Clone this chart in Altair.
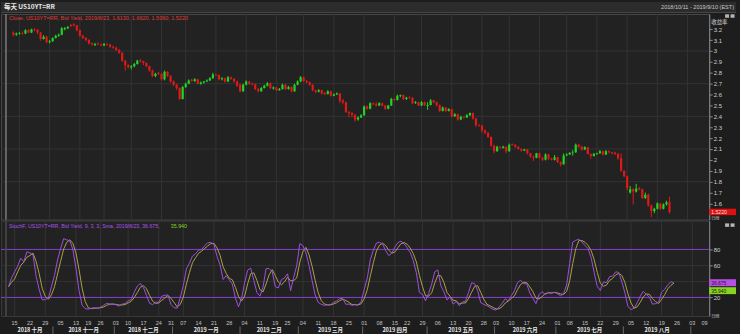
import altair as alt
import pandas as pd

# ---------------- data ----------------
HOLIDAYS = ["2018-11-12", "2018-11-22", "2018-12-05", "2018-12-25", "2019-01-01",
            "2019-02-18", "2019-04-19", "2019-05-27", "2019-07-04", "2019-09-02"]

TICK_LABELS = ["15", "22", "29", "05", "13", "19", "26", "03", "10", "17", "24", "31",
               "07", "14", "21", "28", "04", "11", "19", "25", "04", "11", "18", "25",
               "01", "08", "15", "22", "29", "06", "13", "20", "28", "03", "10", "17", "24",
               "01", "08", "15", "22", "29", "05", "12", "19", "26", "03", "09"]

MONTH_LABELS = ["2018 十月", "2018 十一月", "2018 十二月", "2019 一月", "2019 二月", "2019 三月",
                "2019 四月", "2019 五月", "2019 六月", "2019 七月", "2019 八月"]

open_ = [
    # Oct
    3.170, 3.150, 3.160, 3.165, 3.160, 3.190, 3.170, 3.200, 3.195, 3.170, 3.110, 3.130, 3.080, 3.090, 3.120,
    # Nov
    3.140, 3.150, 3.200, 3.210, 3.240, 3.245, 3.235, 3.190, 3.140, 3.120, 3.100, 3.070, 3.055, 3.065, 3.060,
    3.050, 3.065, 3.060, 3.040, 3.030,
    # Dec
    3.010, 2.985, 2.910, 2.870, 2.850, 2.860, 2.880, 2.915, 2.905, 2.890, 2.860, 2.820, 2.770, 2.800, 2.790,
    2.740, 2.810, 2.770, 2.720,
    # Jan
    2.690, 2.660, 2.560, 2.670, 2.700, 2.735, 2.725, 2.740, 2.700, 2.710, 2.720, 2.730, 2.750, 2.785, 2.780,
    2.740, 2.750, 2.720, 2.760, 2.745, 2.720, 2.690,
    # Feb
    2.630, 2.690, 2.720, 2.700, 2.695, 2.650, 2.630, 2.660, 2.680, 2.705, 2.655, 2.665, 2.640, 2.650, 2.690,
    2.650, 2.670, 2.630, 2.690,
    # Mar
    2.720, 2.760, 2.725, 2.715, 2.690, 2.640, 2.625, 2.640, 2.615, 2.605, 2.630, 2.590, 2.600, 2.610, 2.545,
    2.530, 2.440, 2.430, 2.415, 2.370, 2.390,
    # Apr
    2.410, 2.490, 2.470, 2.520, 2.510, 2.500, 2.520, 2.500, 2.470, 2.500, 2.560, 2.550, 2.590, 2.595, 2.560,
    2.575, 2.570, 2.520, 2.530, 2.500, 2.530,
    # May
    2.495, 2.505, 2.545, 2.530, 2.505, 2.450, 2.480, 2.450, 2.465, 2.400, 2.420, 2.370, 2.395, 2.390, 2.410,
    2.430, 2.380, 2.320, 2.315, 2.270, 2.250, 2.210,
    # Jun
    2.130, 2.080, 2.120, 2.110, 2.120, 2.080, 2.145, 2.140, 2.120, 2.100, 2.085, 2.095, 2.060, 2.030, 2.020,
    2.060, 2.020, 2.000, 2.050, 2.010,
    # Jul
    2.000, 2.025, 1.980, 1.960, 2.040, 2.050, 2.065, 2.070, 2.140, 2.120, 2.095, 2.115, 2.055, 2.035, 2.055,
    2.060, 2.080, 2.050, 2.080, 2.070, 2.065, 2.055,
    # Aug
    2.015, 1.900, 1.850, 1.700, 1.730, 1.710, 1.740, 1.730, 1.650, 1.680, 1.580, 1.530, 1.550, 1.600, 1.550,
    1.590, 1.613,
]

high = [
    3.180, 3.170, 3.175, 3.180, 3.200, 3.200, 3.205, 3.210, 3.200, 3.175, 3.145, 3.140, 3.100, 3.125, 3.150,
    3.160, 3.220, 3.220, 3.230, 3.250, 3.255, 3.240, 3.195, 3.150, 3.130, 3.110, 3.080, 3.075, 3.080, 3.070,
    3.075, 3.075, 3.065, 3.050, 3.040,
    3.020, 2.990, 2.920, 2.880, 2.870, 2.890, 2.920, 2.925, 2.910, 2.895, 2.865, 2.830, 2.800, 2.810, 2.795,
    2.820, 2.815, 2.780, 2.730,
    2.700, 2.665, 2.680, 2.710, 2.740, 2.745, 2.750, 2.745, 2.720, 2.725, 2.740, 2.760, 2.800, 2.790, 2.785,
    2.760, 2.755, 2.770, 2.765, 2.750, 2.730, 2.700,
    2.700, 2.730, 2.725, 2.710, 2.700, 2.660, 2.670, 2.690, 2.715, 2.710, 2.675, 2.670, 2.660, 2.700, 2.695,
    2.680, 2.675, 2.700, 2.730,
    2.770, 2.765, 2.735, 2.720, 2.695, 2.645, 2.650, 2.645, 2.625, 2.640, 2.635, 2.610, 2.620, 2.615, 2.560,
    2.535, 2.450, 2.440, 2.420, 2.400, 2.420,
    2.500, 2.500, 2.530, 2.525, 2.530, 2.530, 2.525, 2.505, 2.505, 2.570, 2.565, 2.600, 2.600, 2.600, 2.580,
    2.585, 2.575, 2.540, 2.535, 2.540, 2.535,
    2.530, 2.560, 2.550, 2.535, 2.510, 2.490, 2.485, 2.475, 2.470, 2.430, 2.425, 2.405, 2.400, 2.420, 2.435,
    2.435, 2.385, 2.330, 2.320, 2.280, 2.255, 2.215,
    2.140, 2.130, 2.125, 2.130, 2.125, 2.150, 2.150, 2.145, 2.125, 2.105, 2.100, 2.100, 2.065, 2.040, 2.065,
    2.065, 2.030, 2.060, 2.055, 2.020,
    2.045, 2.030, 1.985, 2.060, 2.060, 2.070, 2.090, 2.150, 2.145, 2.130, 2.125, 2.120, 2.060, 2.065, 2.065,
    2.090, 2.085, 2.090, 2.085, 2.075, 2.075, 2.065,
    2.060, 1.905, 1.855, 1.760, 1.740, 1.780, 1.750, 1.735, 1.700, 1.690, 1.590, 1.560, 1.610, 1.605, 1.600,
    1.625, 1.662,
]

low = [
    3.135, 3.140, 3.150, 3.150, 3.155, 3.165, 3.165, 3.180, 3.155, 3.095, 3.105, 3.070, 3.070, 3.085, 3.115,
    3.130, 3.145, 3.190, 3.200, 3.220, 3.225, 3.180, 3.130, 3.110, 3.090, 3.060, 3.050, 3.045, 3.055, 3.045,
    3.045, 3.050, 3.030, 3.020, 3.000,
    2.975, 2.900, 2.820, 2.840, 2.830, 2.850, 2.875, 2.895, 2.870, 2.850, 2.810, 2.760, 2.760, 2.780, 2.730,
    2.730, 2.760, 2.710, 2.680,
    2.640, 2.550, 2.555, 2.660, 2.695, 2.720, 2.715, 2.695, 2.690, 2.700, 2.715, 2.725, 2.745, 2.770, 2.730,
    2.730, 2.710, 2.715, 2.735, 2.710, 2.670, 2.620,
    2.625, 2.685, 2.690, 2.685, 2.640, 2.620, 2.625, 2.655, 2.675, 2.650, 2.645, 2.630, 2.635, 2.645, 2.640,
    2.645, 2.620, 2.625, 2.685,
    2.715, 2.715, 2.705, 2.680, 2.630, 2.610, 2.620, 2.600, 2.595, 2.600, 2.580, 2.585, 2.595, 2.520, 2.510,
    2.430, 2.390, 2.390, 2.350, 2.360, 2.385,
    2.405, 2.460, 2.465, 2.500, 2.490, 2.495, 2.490, 2.460, 2.465, 2.495, 2.540, 2.545, 2.575, 2.550, 2.550,
    2.560, 2.510, 2.515, 2.495, 2.495, 2.495,
    2.460, 2.500, 2.520, 2.490, 2.440, 2.445, 2.440, 2.445, 2.390, 2.395, 2.360, 2.365, 2.380, 2.385, 2.405,
    2.370, 2.300, 2.305, 2.250, 2.235, 2.200, 2.120,
    2.060, 2.075, 2.100, 2.105, 2.060, 2.075, 2.130, 2.110, 2.095, 2.075, 2.080, 2.050, 2.020, 1.990, 2.015,
    2.010, 1.990, 1.995, 2.000, 1.995,
    1.995, 1.970, 1.940, 1.955, 2.035, 2.045, 2.040, 2.065, 2.110, 2.085, 2.090, 2.050, 2.010, 2.030, 2.045,
    2.055, 2.040, 2.045, 2.060, 2.050, 2.045, 2.000,
    1.890, 1.840, 1.720, 1.690, 1.590, 1.700, 1.720, 1.640, 1.640, 1.570, 1.475, 1.510, 1.545, 1.540, 1.545,
    1.580, 1.506,
]

close = [
    3.150, 3.160, 3.165, 3.160, 3.190, 3.170, 3.200, 3.195, 3.170, 3.110, 3.130, 3.080, 3.090, 3.120, 3.140,
    3.150, 3.210, 3.210, 3.220, 3.230, 3.235, 3.190, 3.140, 3.120, 3.100, 3.070, 3.060, 3.065, 3.060, 3.050,
    3.065, 3.060, 3.040, 3.030, 3.010,
    2.985, 2.910, 2.870, 2.850, 2.860, 2.880, 2.910, 2.905, 2.890, 2.860, 2.820, 2.770, 2.790, 2.790, 2.740,
    2.810, 2.770, 2.720, 2.690,
    2.660, 2.560, 2.670, 2.700, 2.730, 2.725, 2.740, 2.700, 2.710, 2.720, 2.730, 2.750, 2.785, 2.780, 2.740,
    2.750, 2.720, 2.760, 2.745, 2.720, 2.680, 2.630,
    2.690, 2.720, 2.700, 2.695, 2.650, 2.630, 2.660, 2.680, 2.705, 2.660, 2.665, 2.640, 2.650, 2.690, 2.650,
    2.670, 2.630, 2.690, 2.720,
    2.760, 2.725, 2.715, 2.690, 2.640, 2.625, 2.640, 2.610, 2.605, 2.630, 2.590, 2.600, 2.610, 2.540, 2.530,
    2.440, 2.430, 2.415, 2.370, 2.390, 2.410,
    2.490, 2.470, 2.520, 2.510, 2.500, 2.520, 2.500, 2.470, 2.500, 2.560, 2.550, 2.590, 2.595, 2.560, 2.570,
    2.570, 2.520, 2.530, 2.500, 2.530, 2.505,
    2.505, 2.545, 2.530, 2.505, 2.450, 2.480, 2.450, 2.465, 2.400, 2.420, 2.370, 2.395, 2.390, 2.410, 2.430,
    2.380, 2.320, 2.315, 2.270, 2.250, 2.210, 2.130,
    2.080, 2.120, 2.115, 2.120, 2.080, 2.140, 2.140, 2.120, 2.100, 2.085, 2.095, 2.060, 2.030, 2.020, 2.060,
    2.020, 2.000, 2.050, 2.010, 2.000,
    2.025, 1.980, 1.960, 2.040, 2.050, 2.065, 2.070, 2.140, 2.120, 2.095, 2.115, 2.055, 2.035, 2.055, 2.060,
    2.080, 2.050, 2.080, 2.070, 2.060, 2.055, 2.015,
    1.900, 1.850, 1.740, 1.730, 1.710, 1.735, 1.730, 1.650, 1.680, 1.580, 1.530, 1.550, 1.600, 1.550, 1.590,
    1.610, 1.522,
]

PRICE_TICKS = [1.6, 1.7, 1.8, 1.9, 2.0, 2.1, 2.2, 2.3, 2.4, 2.5, 2.6, 2.7, 2.8, 2.9, 3.0, 3.1, 3.2]
PRICE_GRID = [3.0, 2.7, 2.4, 2.1, 1.8]
STOCH_TICKS = [20, 40, 60, 80]
STOCH_TICK_LABELS = [20, 60, 80]   # the 40 label sits under the value boxes
STOCH_LEVELS = [20, 80]
STOCH_GRID = [40, 60]

HEADER_LEFT = "每天 US10YT=RR"
HEADER_RIGHT = "2018/10/11 - 2019/9/10 (EST)"
MAIN_LABEL = "Close, US10YT=RR, Bid Yield, 2019/8/23, 1.6130, 1.6620, 1.5060, 1.5220"
STOCH_LABEL = "StochF, US10YT=RR, Bid Yield, 9, 3, 3, Sma, 2019/8/23, 36.675,"
STOCH_LABEL2 = "35.940"
LAST_LABEL = "1.5220"
K_LABEL = "36.675"
D_LABEL = "35.940"

# ---------------- styling ----------------
BG = "#1d1d1d"
PLOT = "#222222"
GRID = "#333333"
GREEN = "#22d422"
RED = "#e01818"
PURPLE = "#a04ee0"
OLIVE = "#a8a442"
LEVEL = "#8a3fd0"
TXT = "#cfcfcf"
FONT = "Liberation Sans, Noto Sans CJK SC"
CJK = "Noto Sans CJK SC"

W = 713
XMIN, XMAX = -2.444, 228.5

# ---------------- tables ----------------
cal = [d for d in pd.bdate_range("2018-10-11", "2019-09-10") if d.strftime("%Y-%m-%d") not in HOLIDAYS]
n = len(close)
candles = pd.DataFrame({"idx": list(range(n)), "open": open_, "high": high, "low": low, "close": close})

cal_df = pd.DataFrame({"idx": list(range(len(cal))), "date": cal})
cal_df["monday"] = cal_df["date"] - pd.to_timedelta(cal_df["date"].dt.weekday, unit="D")
wk = cal_df[cal_df["monday"] >= pd.Timestamp("2018-10-15")].groupby("monday")["idx"].min().sort_index()
tick_idx = list(wk.values)
m = min(len(tick_idx), len(TICK_LABELS))
ticks = pd.DataFrame({"idx": tick_idx[:m], "label": TICK_LABELS[:m]})
vgrid = pd.DataFrame({"idx": tick_idx[::2]})

cal_df["ym"] = cal_df["date"].dt.strftime("%Y-%m")
mg = cal_df.groupby("ym")["idx"].agg(["min", "max"]).sort_index()
months = pd.DataFrame({
    "c": [(a + b) / 2 for a, b in zip(mg["min"][:len(MONTH_LABELS)], mg["max"][:len(MONTH_LABELS)])],
    "label": MONTH_LABELS,
})
seps = pd.DataFrame({"s": [v - 0.5 for v in list(mg["min"])[1:]]})

one = pd.DataFrame({"a": [0]})

xscale = alt.Scale(domain=[XMIN, XMAX], nice=False, zero=False)
X = alt.X("idx:Q", scale=xscale, axis=None)

# ---------------- header ----------------
header = alt.layer(
    alt.Chart(one).mark_rect(color="#2c2c2c").encode(
        x=alt.value(0), x2=alt.value(740), y=alt.value(0), y2=alt.value(10)),
    alt.Chart(one).mark_rule(color="#4a4a4a").encode(
        x=alt.value(0), x2=alt.value(740), y=alt.value(10.5)),
    alt.Chart(pd.DataFrame({"t": [HEADER_LEFT]})).mark_text(
        align="left", baseline="middle", font=CJK, fontSize=6.5, fontWeight="bold", color="#e6e6e6"
    ).encode(x=alt.value(3), y=alt.value(5), text="t:N"),
    alt.Chart(pd.DataFrame({"t": [HEADER_RIGHT]})).mark_text(
        align="right", baseline="middle", font=FONT, fontSize=5.6, color="#c8c8c8"
    ).encode(x=alt.value(738), y=alt.value(5), text="t:N"),
).properties(width=W, height=11, view=alt.ViewBackground(fill="transparent", stroke="transparent"))

# ---------------- main price panel ----------------
yscale = alt.Scale(domain=[1.4509, 3.3396], nice=False, zero=False)
yaxis = alt.Axis(orient="right", values=PRICE_TICKS, format=".1~f", title=None, grid=False,
                 domainColor="#8a8a8a", tickColor="#8a8a8a", tickSize=3, labelColor=TXT,
                 labelFontSize=6, labelFont=FONT, labelPadding=1, labelOverlap=False)
color = alt.Color("dir:N", scale=alt.Scale(domain=["up", "down"], range=[GREEN, RED]), legend=None)
cbase = alt.Chart(candles).transform_calculate(dir="datum.close >= datum.open ? 'up' : 'down'")

main = alt.layer(
    alt.Chart(vgrid).mark_rule(color=GRID, strokeWidth=1).encode(x=X),
    alt.Chart(pd.DataFrame({"p": PRICE_GRID})).mark_rule(color=GRID, strokeWidth=1).encode(
        y=alt.Y("p:Q", scale=yscale, axis=yaxis)),
    cbase.mark_rule(strokeWidth=1, clip=True).encode(
        x=X, y=alt.Y("low:Q", scale=yscale, axis=yaxis), y2="high:Q", color=color),
    cbase.mark_bar(width=2.2, clip=True).encode(
        x=X, y=alt.Y("open:Q", scale=yscale, axis=yaxis), y2="close:Q", color=color),
    alt.Chart(one).mark_rule(color="#7a7a7a", strokeWidth=1.5).encode(
        x=alt.value(5), y=alt.value(0), y2=alt.value(207)),
    alt.Chart(pd.DataFrame({"t": [MAIN_LABEL]})).mark_text(
        align="left", baseline="middle", font=FONT, fontSize=5.5, color="#e03a3a"
    ).encode(x=alt.value(8), y=alt.value(3.5), text="t:N"),
    alt.Chart(pd.DataFrame({"t": ["收益率"]})).mark_text(
        align="left", baseline="middle", font=CJK, fontSize=5.5, color=TXT
    ).encode(x=alt.value(715), y=alt.value(8.5), text="t:N"),
    alt.Chart(pd.DataFrame({"x1": [729, 734.5], "x2": [733, 738.5]})).mark_rule(
        color="#b5b5b5", strokeWidth=3.5).encode(
        x=alt.X("x1:Q", scale=None), x2="x2:Q", y=alt.value(2)),
    alt.Chart(pd.DataFrame({"p": [close[-1]], "t": [LAST_LABEL]})).mark_rule(
        color="#e01010", strokeWidth=6.5).encode(
        x=alt.value(713), x2=alt.value(740), y=alt.Y("p:Q", scale=yscale, axis=yaxis)),
    alt.Chart(pd.DataFrame({"p": [close[-1]], "t": [LAST_LABEL]})).mark_text(
        align="left", baseline="middle", font=FONT, fontSize=5.2, color="#ffd8d8").encode(
        x=alt.value(715), y=alt.Y("p:Q", scale=yscale, axis=yaxis), text="t:N"),
    alt.Chart(pd.DataFrame({"t": ["日線"]})).mark_text(
        align="left", baseline="middle", font=CJK, fontSize=4.2, color="#bdbdbd"
    ).encode(x=alt.value(715), y=alt.value(206), text="t:N"),
).properties(width=W, height=207, view=alt.ViewBackground(fill=PLOT, stroke="#4a4a4a"))

# ---------------- stochastic panel ----------------
sscale = alt.Scale(domain=[-3.23, 116.0], nice=False, zero=False)
saxis = alt.Axis(orient="right", values=STOCH_TICKS, format="d", title=None, grid=False,
                 labelExpr="indexof(%s, datum.value) >= 0 ? datum.label : ''" % str(STOCH_TICK_LABELS),
                 domainColor="#8a8a8a", tickColor="#8a8a8a", tickSize=3, labelColor=TXT,
                 labelFontSize=6, labelFont=FONT, labelPadding=1, labelOverlap=False)
sort_idx = [alt.SortField("idx")]
sbase = (
    alt.Chart(candles)
    .transform_window(hh="max(high)", ll="min(low)", frame=[-8, 0], sort=sort_idx)
    .transform_calculate(rawk="100 * (datum.close - datum.ll) / (datum.hh - datum.ll)")
    .transform_window(k="mean(rawk)", frame=[-2, 0], sort=sort_idx)
    .transform_window(d="mean(k)", frame=[-2, 0], sort=sort_idx)
)

stoch = alt.layer(
    alt.Chart(vgrid).mark_rule(color=GRID, strokeWidth=1).encode(x=X),
    alt.Chart(pd.DataFrame({"v": STOCH_GRID})).mark_rule(color=GRID, strokeWidth=1).encode(
        y=alt.Y("v:Q", scale=sscale, axis=saxis)),
    alt.Chart(pd.DataFrame({"v": STOCH_LEVELS})).mark_rule(color=LEVEL, strokeWidth=1).encode(
        y=alt.Y("v:Q", scale=sscale, axis=saxis)),
    sbase.mark_line(color=OLIVE, strokeWidth=1, clip=True).encode(
        x=X, y=alt.Y("d:Q", scale=sscale, axis=saxis)),
    sbase.mark_line(color=PURPLE, strokeWidth=1, clip=True).encode(
        x=X, y=alt.Y("k:Q", scale=sscale, axis=saxis)),
    alt.Chart(one).mark_rule(color="#4a4a4a", strokeWidth=1.5).encode(
        x=alt.value(5), y=alt.value(0), y2=alt.value(96)),
    alt.Chart(pd.DataFrame({"t": [STOCH_LABEL]})).mark_text(
        align="left", baseline="middle", font=FONT, fontSize=5.3, color="#a855e8"
    ).encode(x=alt.value(8), y=alt.value(5.5), text="t:N"),
    alt.Chart(pd.DataFrame({"t": [STOCH_LABEL2]})).mark_text(
        align="left", baseline="middle", font=FONT, fontSize=5.3, color="#86d41e"
    ).encode(x=alt.value(171), y=alt.value(5.5), text="t:N"),
    alt.Chart(pd.DataFrame({"x1": [729, 734.5], "x2": [733, 738.5]})).mark_rule(
        color="#b5b5b5", strokeWidth=3.5).encode(
        x=alt.X("x1:Q", scale=None), x2="x2:Q", y=alt.value(4.5)),
    alt.Chart(pd.DataFrame({"yy": [62.5, 70.5], "c": ["k", "d"]})).mark_rule(strokeWidth=7).encode(
        x=alt.value(713), x2=alt.value(740), y=alt.Y("yy:Q", scale=None),
        color=alt.Color("c:N", scale=alt.Scale(domain=["k", "d"], range=["#b84fe6", "#86d41e"]), legend=None)),
    alt.Chart(pd.DataFrame({"yy": [62.5, 70.5], "t": [K_LABEL, D_LABEL]})).mark_text(
        align="left", baseline="middle", font=FONT, fontSize=5, color="#1c1c1c").encode(
        x=alt.value(715), y=alt.Y("yy:Q", scale=None), text="t:N"),
).properties(width=W, height=96, view=alt.ViewBackground(fill=PLOT, stroke="#3a3a3a"))

# ---------------- date axis panel ----------------
axis_panel = alt.layer(
    alt.Chart(ticks).mark_text(baseline="middle", font=FONT, fontSize=5.5, color="#c4c4c4").encode(
        x=X, y=alt.value(6), text="label:N"),
    alt.Chart(months).mark_text(baseline="middle", font=CJK, fontSize=5.5, fontWeight="bold",
                                color="#e8e8e8").encode(
        x=alt.X("c:Q", scale=xscale, axis=None), y=alt.value(13), text="label:N"),
    alt.Chart(seps).mark_rule(color="#6a6a6a", strokeWidth=1).encode(
        x=alt.X("s:Q", scale=xscale, axis=None), y=alt.value(9.5), y2=alt.value(17)),
    alt.Chart(pd.DataFrame({"t": ["日線"]})).mark_text(
        align="left", baseline="middle", font=CJK, fontSize=4.2, color="#bdbdbd"
    ).encode(x=alt.value(715), y=alt.value(0), text="t:N"),
).properties(width=W, height=17, view=alt.ViewBackground(fill="transparent", stroke="transparent"))

chart = alt.vconcat(header, main, stoch, axis_panel, spacing=1, bounds="flush").resolve_scale(
    x="independent", y="independent", color="independent"
).properties(padding=0, background=BG)

chart.save("out.html", embed_options={"renderer": "svg", "actions": False})
